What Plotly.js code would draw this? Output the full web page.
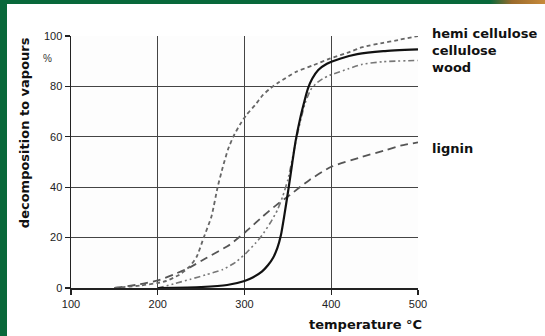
<!DOCTYPE html>
<html>
<head>
<meta charset="utf-8">
<script src="https://cdn.plot.ly/plotly-3.0.1.min.js"></script>
<style>
html,body{margin:0;padding:0;width:545px;height:336px;overflow:hidden;background:#08683a;}
#frame{position:absolute;left:7px;top:4px;width:538px;height:332px;background:#fff;}
#corner{position:absolute;left:490px;top:0;width:55px;height:5px;background:linear-gradient(90deg,#08683a,#9a6a2c 40%,#c88a3a);}
#chart{position:absolute;left:0;top:0;width:538px;height:332px;}
</style>
</head>
<body>
<div id="corner"></div>
<div id="frame"><div id="chart"></div></div>
<script>
// Temperatures (°C) and decomposition to vapours (%)
const hemiT = [150,180,200,210,225,237,245,253,262,269,275,281,287,295,302,312,321,330,340,359,380,398,420,436,460,474,500];
const hemiV = [0,1,2,2.8,5.3,8.6,12.5,20,28.5,40,48,55,60,65,68.6,72.5,76.5,79.3,81.7,85.7,88.5,91,93.5,95.6,97.3,98.2,100];

const celT = [200,250,280,300,310,320,327,333,338,342,346,351,355,359,364,369,373,378,385,395,410,430,460,500];
const celV = [0,0.4,1.2,2.8,4.3,6.5,9,12,16,21,29,40,49.5,58.5,67,74,79,83,86.5,89,91,92.8,94,94.7];

const woodT = [200,220,237,255,275,290,302,313,320,330,338,344,350,355,360,365,370,376,382,390,398,420,436,460,500];
const woodV = [0,1.8,3.4,5.2,7.3,10.3,13.9,17.9,20.8,26,31,36.3,43,51,59.5,67,73.5,78.5,81,83,84.4,87,88.8,89.8,90.3];

const ligT = [150,180,200,218,237,256,283,302,321,337,350,375,400,436,463,480,500];
const ligV = [0,1.5,3,5.3,8.2,11.9,17.2,22.5,28.4,33,36.3,42.9,48.1,52.1,54.7,56.5,57.8];

const seriesNames = ['hemi cellulose','cellulose','wood','lignin'];
const xTicks = [100,200,300,400,500];
const yTicks = [0,20,40,60,80,100];

const traces = [
  {x: ligT, y: ligV, name: seriesNames[3], mode:'lines',
   line:{color:'#555', width:1.8, dash:'8px,5px', shape:'spline', smoothing:0.5}},
  {x: woodT, y: woodV, name: seriesNames[2], mode:'lines',
   line:{color:'#777', width:1.6, dash:'6px,3px,2px,3px,2px,3px', shape:'spline', smoothing:0.5}},
  {x: hemiT, y: hemiV, name: seriesNames[0], mode:'lines',
   line:{color:'#666', width:1.8, dash:'4px,3px', shape:'spline', smoothing:0.5}},
  {x: celT, y: celV, name: seriesNames[1], mode:'lines',
   line:{color:'#111', width:2.2, shape:'spline', smoothing:0.5}}
];

const lab = {family:'DejaVu Sans, sans-serif', size:13, color:'#111', weight:700};
const tickF = {family:'Liberation Sans, Arial, sans-serif', size:11, color:'#222'};
const ann = [
  {text:'decomposition to vapours', xref:'paper', yref:'paper', x:-0.135, y:0.615, textangle:-90,
   showarrow:false, xanchor:'center', yanchor:'middle', font:lab},
  {text:'%', xref:'paper', yref:'paper', x:-0.068, y:0.91, showarrow:false,
   xanchor:'center', yanchor:'middle', font:{family:'Liberation Sans, Arial, sans-serif', size:10, color:'#333'}},
  {text:'temperature °C', xref:'paper', yref:'paper', x:1.017, y:-0.144, showarrow:false,
   xanchor:'right', yanchor:'middle', font:lab},
  {text:[seriesNames[0],seriesNames[1],seriesNames[2]].join('<br>'), xref:'paper', yref:'paper', x:1.034, y:0.942,
   showarrow:false, xanchor:'left', yanchor:'middle', align:'left', font:lab},
  {text:seriesNames[3], xref:'paper', yref:'paper', x:1.034, y:0.555, showarrow:false,
   xanchor:'left', yanchor:'middle', font:lab}
];

const layout = {
  width:538, height:332,
  margin:{l:64, r:127, t:31.5, b:47.5},
  paper_bgcolor:'#ffffff', plot_bgcolor:'#fdfdfd',
  showlegend:false,
  xaxis:{range:[100,500], tickvals:xTicks, ticktext:xTicks.map(String), showgrid:true, gridcolor:'#444', gridwidth:1.3,
    showline:true, linecolor:'#222', linewidth:1.5, ticks:'outside', ticklen:5, tickcolor:'#222', tickwidth:1.3,
    zeroline:false, tickfont:tickF},
  yaxis:{range:[0,100], tickvals:yTicks, ticktext:yTicks.map(String), showgrid:true, gridcolor:'#444', gridwidth:1.3,
    showline:true, linecolor:'#222', linewidth:1.5, ticks:'outside', ticklen:5, tickcolor:'#222', tickwidth:1.3,
    zeroline:false, tickfont:tickF},
  annotations: ann
};
Plotly.newPlot('chart', traces, layout, {staticPlot:true, displayModeBar:false});
</script>
</body>
</html>
